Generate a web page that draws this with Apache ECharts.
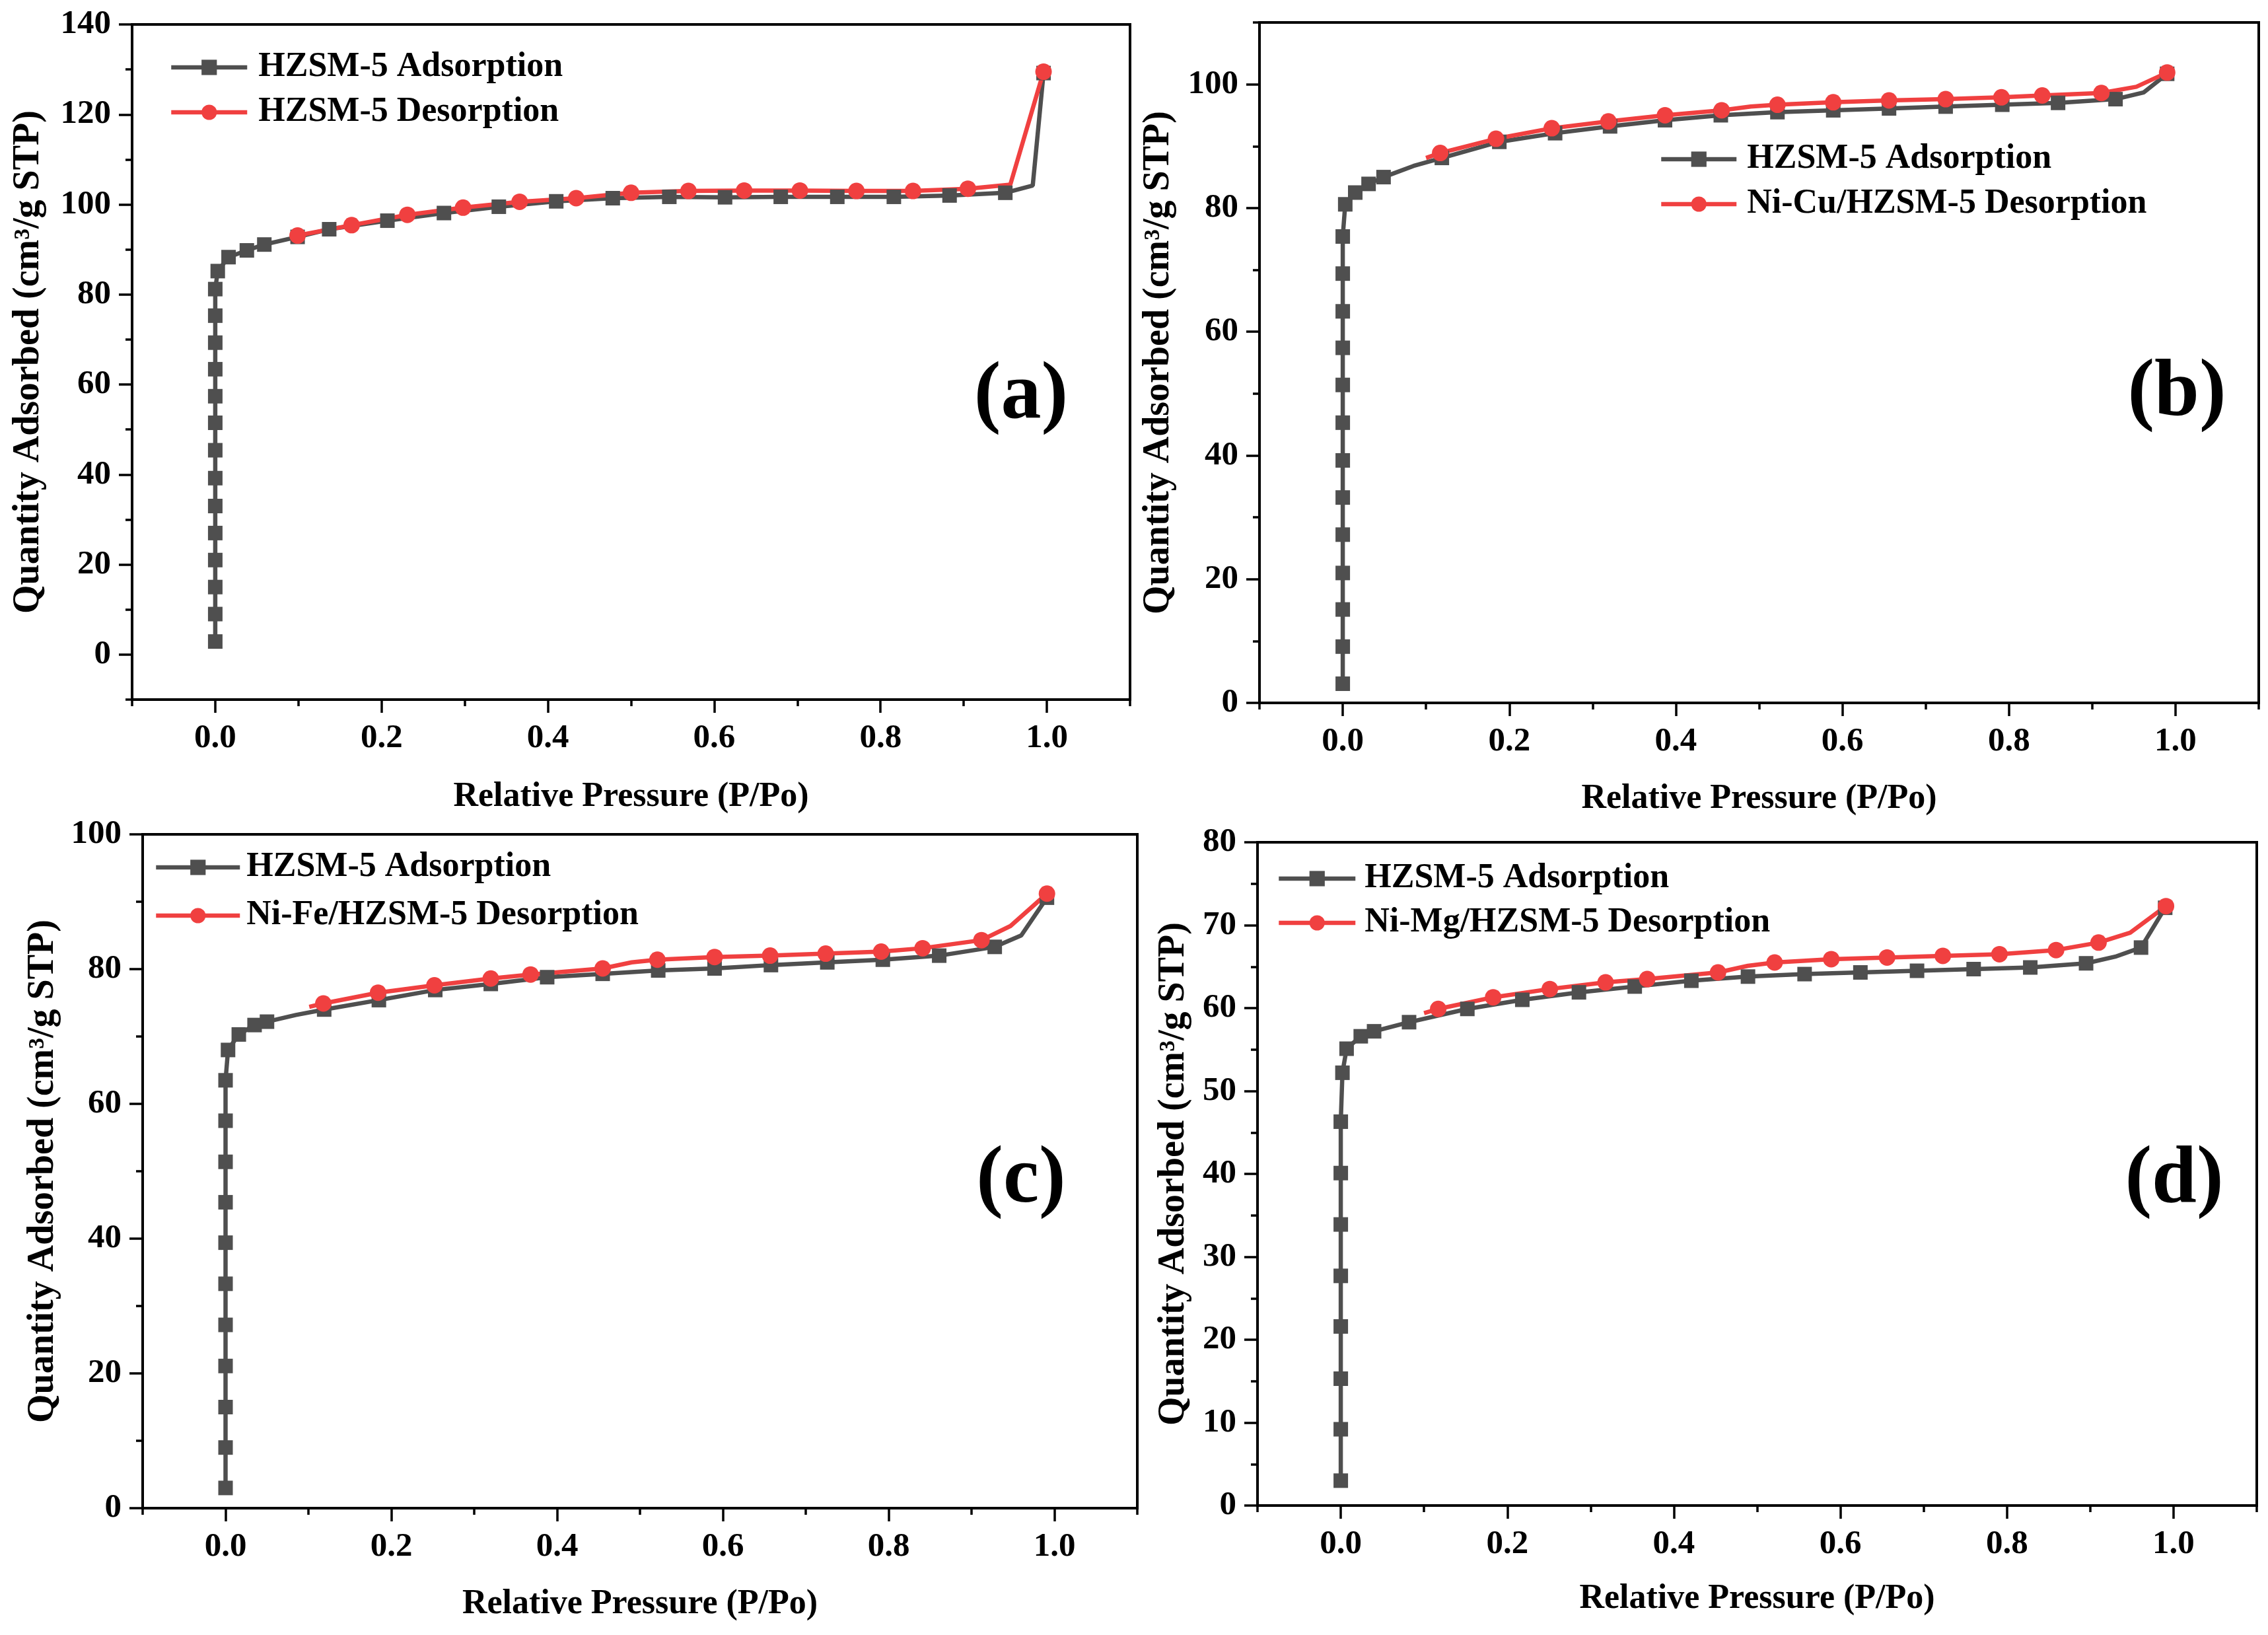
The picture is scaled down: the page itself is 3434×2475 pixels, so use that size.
<!DOCTYPE html>
<html lang="en" style="height: 100%">
<head>
<meta charset="utf-8">
<title>N2 adsorption-desorption isotherms</title>
</head>
<body style="height: 100%; margin: 0; background: #fff">
<div id="container" style="height: 100%"></div>

<script type="text/javascript" src="https://cdn.jsdelivr.net/npm/echarts/dist/echarts.min.js"></script>

<script type="text/javascript">

var dom = document.getElementById('container');
var myChart = echarts.init(dom);

// tick values
var xMajor = [0, 0.2, 0.4, 0.6, 0.8, 1.0];
var xMinor = [-0.1, 0, 0.1, 0.2, 0.3, 0.4, 0.5, 0.6, 0.7, 0.8, 0.9, 1.0, 1.1];
var aYMajor = [0, 20, 40, 60, 80, 100, 120, 140];
var aYMinor = [-10, 0, 10, 20, 30, 40, 50, 60, 70, 80, 90, 100, 110, 120, 130, 140];
var bYMajor = [0, 20, 40, 60, 80, 100];
var bYMinor = [0, 10, 20, 30, 40, 50, 60, 70, 80, 90, 100, 110];
var cYMajor = [0, 20, 40, 60, 80, 100];
var cYMinor = [0, 10, 20, 30, 40, 50, 60, 70, 80, 90, 100];
var dYMajor = [0, 10, 20, 30, 40, 50, 60, 70, 80];
var dYMinor = [0, 5, 10, 15, 20, 25, 30, 35, 40, 45, 50, 55, 60, 65, 70, 75, 80];

// series names
var adsName = 'HZSM-5 Adsorption';
var desNames = ['HZSM-5 Desorption', 'Ni-Cu/HZSM-5 Desorption', 'Ni-Fe/HZSM-5 Desorption', 'Ni-Mg/HZSM-5 Desorption'];

// (a) [P/Po, quantity adsorbed]
var aAds = [[0, 2.9], [0, 9], [0, 15], [0, 21], [0, 27], [0, 33], [0, 39.2], [0, 45.4], [0, 51.5], [0, 57.4],
    [0, 63.4], [0, 69.3], [0, 75.3], [0, 81.2], [0.003, 85.2], [0.016, 88.3], [0.038, 89.8], [0.059, 91.1],
    [0.099, 92.8], [0.137, 94.5], [0.207, 96.4], [0.275, 98.1], [0.341, 99.5], [0.41, 100.7], [0.478, 101.4],
    [0.546, 101.7], [0.613, 101.6], [0.68, 101.7], [0.748, 101.7], [0.816, 101.7], [0.883, 102], [0.95, 102.6],
    [0.983, 104.2], [0.996, 129.2]];
var aAdsPlain = [32]; // points on the line without a marker
var aDes = [[0.996, 129.5], [0.956, 104.4], [0.905, 103.5], [0.839, 103], [0.771, 103], [0.703, 103.1],
    [0.636, 103.1], [0.569, 103], [0.5, 102.6], [0.434, 101.4], [0.366, 100.6], [0.298, 99.3], [0.231, 97.7],
    [0.164, 95.4], [0.099, 93.1]];
var aDesPlain = [1];

// (b)
var bAds = [[0, 3.1], [0, 9.1], [0, 15.1], [0, 21], [0, 27.2], [0, 33.2], [0, 39.2], [0, 45.3], [0, 51.4], [0, 57.4],
    [0, 63.3], [0, 69.4], [0, 75.4], [0.003, 80.6], [0.015, 82.5], [0.031, 83.9], [0.049, 85], [0.085, 86.8],
    [0.119, 88.1], [0.188, 90.7], [0.255, 92.1], [0.321, 93.2], [0.387, 94.2], [0.454, 95], [0.522, 95.5],
    [0.589, 95.8], [0.656, 96.1], [0.724, 96.4], [0.792, 96.7], [0.859, 97], [0.928, 97.6], [0.962, 98.7],
    [0.99, 101.7]];
var bAdsPlain = [17, 31];
var bDes = [[0.99, 101.9], [0.953, 99.6], [0.911, 98.6], [0.84, 98.2], [0.791, 97.9], [0.724, 97.6], [0.656, 97.4],
    [0.589, 97.1], [0.522, 96.7], [0.49, 96.4], [0.455, 95.8], [0.387, 95], [0.319, 94], [0.251, 92.9],
    [0.184, 91.2], [0.117, 88.9], [0.1, 88.1]];
var bDesPlain = [1, 9, 16];

// (c)
var cAds = [[0, 3], [0, 9], [0, 15], [0, 21.1], [0, 27.2], [0, 33.3], [0, 39.4], [0, 45.4], [0, 51.4], [0, 57.5],
    [0, 63.5], [0.003, 68], [0.016, 70.3], [0.035, 71.7], [0.05, 72.2], [0.085, 73.2], [0.119, 74], [0.185, 75.4],
    [0.253, 76.9], [0.32, 77.8], [0.388, 78.8], [0.455, 79.3], [0.522, 79.8], [0.59, 80.1], [0.658, 80.6],
    [0.726, 81], [0.793, 81.4], [0.861, 82], [0.928, 83.3], [0.96, 85], [0.991, 90.6]];
var cAdsPlain = [15, 29];
var cDes = [[0.991, 91.2], [0.947, 86.4], [0.912, 84.3], [0.841, 83.1], [0.791, 82.6], [0.724, 82.3], [0.657, 82],
    [0.59, 81.8], [0.521, 81.4], [0.49, 81], [0.455, 80.1], [0.368, 79.2], [0.32, 78.6], [0.252, 77.6],
    [0.184, 76.5], [0.118, 74.9], [0.101, 74.4]];
var cDesPlain = [1, 9, 16];

// (d)
var dAds = [[0, 3], [0, 9.2], [0, 15.3], [0, 21.6], [0, 27.7], [0, 33.9], [0, 40.1], [0, 46.3], [0.002, 52.2],
    [0.007, 55.1], [0.024, 56.6], [0.04, 57.2], [0.082, 58.3], [0.152, 59.9], [0.218, 61], [0.286, 61.9],
    [0.353, 62.6], [0.421, 63.3], [0.489, 63.8], [0.557, 64.1], [0.624, 64.3], [0.692, 64.5], [0.76, 64.7],
    [0.828, 64.9], [0.895, 65.4], [0.93, 66.2], [0.961, 67.3], [0.99, 72.1]];
var dAdsPlain = [25];
var dDes = [[0.991, 72.3], [0.948, 69.1], [0.91, 67.9], [0.859, 67], [0.791, 66.5], [0.723, 66.3], [0.656, 66.1],
    [0.589, 65.9], [0.521, 65.5], [0.489, 65.1], [0.453, 64.3], [0.368, 63.5], [0.318, 63.1], [0.251, 62.3],
    [0.183, 61.3], [0.117, 59.9], [0.1, 59.4]];
var dDesPlain = [1, 9, 16];

var FONT = '"Liberation Serif", "Times New Roman", serif';
var GRAY = '#4f4f4f';
var RED = '#f04040';

// layout of the four panels (pixels)
var panels = [
    { tag: '(a)', ads: aAds, adsPlain: aAdsPlain, des: aDes, desPlain: aDesPlain, yMin: -10, yMax: 140, yMajor: aYMajor, yMinor: aYMinor,
      grid: [200, 37, 1511, 1022], yGap: 128, xGap: 122, legend: [251, 71, 115, 16, 12], tagAt: [1546, 600] },
    { tag: '(b)', ads: bAds, adsPlain: bAdsPlain, des: bDes, desPlain: bDesPlain, yMin: 0, yMax: 110, yMajor: bYMajor, yMinor: bYMinor,
      grid: [1907, 34, 1513, 1030], yGap: 124, xGap: 120, legend: [2507, 210, 114, 16, 11], tagAt: [3296, 596] },
    { tag: '(c)', ads: cAds, adsPlain: cAdsPlain, des: cDes, desPlain: cDesPlain, yMin: 0, yMax: 100, yMajor: cYMajor, yMinor: cYMinor,
      grid: [216, 1263, 1506, 1020], yGap: 122, xGap: 120, legend: [228, 1282, 127, 21, 5], tagAt: [1546, 1787] },
    { tag: '(d)', ads: dAds, adsPlain: dAdsPlain, des: dDes, desPlain: dDesPlain, yMin: 0, yMax: 80, yMajor: dYMajor, yMinor: dYMinor,
      grid: [1904, 1275, 1513, 1004], yGap: 98, xGap: 116, legend: [1928, 1299, 116, 15, 9], tagAt: [3292, 1787] }
];

function points(pairs, plain) {
    return pairs.map(function (p, i) {
        return plain.indexOf(i) >= 0 ? { value: p, symbol: 'none' } : p;
    });
}

function fmtX(v) { return v.toFixed(1); }
function fmtY(v) { return String(v); }

function mainAxis(dim, k, min, max, ticks, name, gap, fmt) {
    return {
        type: 'value', gridIndex: k, min: min, max: max,
        position: dim === 'x' ? 'bottom' : 'left',
        name: name, nameLocation: 'middle', nameGap: gap,
        nameTextStyle: { fontFamily: FONT, fontWeight: 'bold', fontSize: dim === 'x' ? 52 : 56, color: '#000' },
        axisLine: { show: true, onZero: false, lineStyle: { color: '#000', width: 4 } },
        axisTick: { show: true, inside: false, length: 20, customValues: ticks, lineStyle: { color: '#000', width: 3.5 } },
        axisLabel: { show: true, customValues: ticks, formatter: fmt, margin: dim === 'x' ? 33 : 32,
            fontFamily: FONT, fontWeight: 'bold', fontSize: 51, color: '#000' },
        splitLine: { show: false }
    };
}

function minorAxis(dim, k, min, max, ticks) {
    return {
        type: 'value', gridIndex: k, min: min, max: max,
        position: dim === 'x' ? 'bottom' : 'left',
        axisLine: { show: false, onZero: false },
        axisTick: { show: true, inside: false, length: 10, customValues: ticks, lineStyle: { color: '#000', width: 3.5 } },
        axisLabel: { show: false },
        splitLine: { show: false }
    };
}

var grids = [], xAxes = [], yAxes = [], series = [], legends = [], graphics = [];

panels.forEach(function (p, k) {
    grids.push({
        left: p.grid[0], top: p.grid[1], width: p.grid[2], height: p.grid[3],
        show: true, borderColor: '#000', borderWidth: 4, backgroundColor: 'transparent'
    });
    xAxes.push(mainAxis('x', k, -0.1, 1.1, xMajor, 'Relative Pressure (P/Po)', p.xGap, fmtX));
    xAxes.push(minorAxis('x', k, -0.1, 1.1, xMinor));
    yAxes.push(mainAxis('y', k, p.yMin, p.yMax, p.yMajor, 'Quantity Adsorbed (cm\u00b3/g STP)', p.yGap, fmtY));
    yAxes.push(minorAxis('y', k, p.yMin, p.yMax, p.yMinor));

    series.push({
        name: adsName, type: 'line', xAxisIndex: 2 * k, yAxisIndex: 2 * k,
        data: points(p.ads, p.adsPlain),
        symbol: 'rect', symbolSize: 22,
        lineStyle: { color: GRAY, width: 6.5 }, itemStyle: { color: GRAY }
    });
    series.push({
        name: desNames[k], type: 'line', xAxisIndex: 2 * k, yAxisIndex: 2 * k,
        data: points(p.des, p.desPlain),
        symbol: 'circle', symbolSize: 25,
        lineStyle: { color: RED, width: 6.5 }, itemStyle: { color: RED }
    });

    legends.push({
        orient: 'vertical', left: p.legend[0], top: p.legend[1],
        itemWidth: p.legend[2], itemHeight: 29, itemGap: p.legend[3],
        data: [adsName, desNames[k]], selectedMode: false,
        lineStyle: { width: 6.5 },
        textStyle: { fontFamily: FONT, fontWeight: 'bold', fontSize: 52, color: '#000', padding: [0, 0, 0, p.legend[4]] }
    });

    graphics.push({
        type: 'text', x: p.tagAt[0], y: p.tagAt[1],
        style: { text: p.tag, fill: '#000', fontFamily: FONT, fontWeight: 'bold', fontSize: 122,
            align: 'center', verticalAlign: 'middle' }
    });
});

var option = {
    backgroundColor: '#fff',
    animation: false,
    grid: grids,
    xAxis: xAxes,
    yAxis: yAxes,
    legend: legends,
    graphic: graphics,
    series: series
};

if (option && typeof option === 'object') {
    myChart.setOption(option);
}

window.addEventListener('resize', myChart.resize);
</script>
</body>
</html>
